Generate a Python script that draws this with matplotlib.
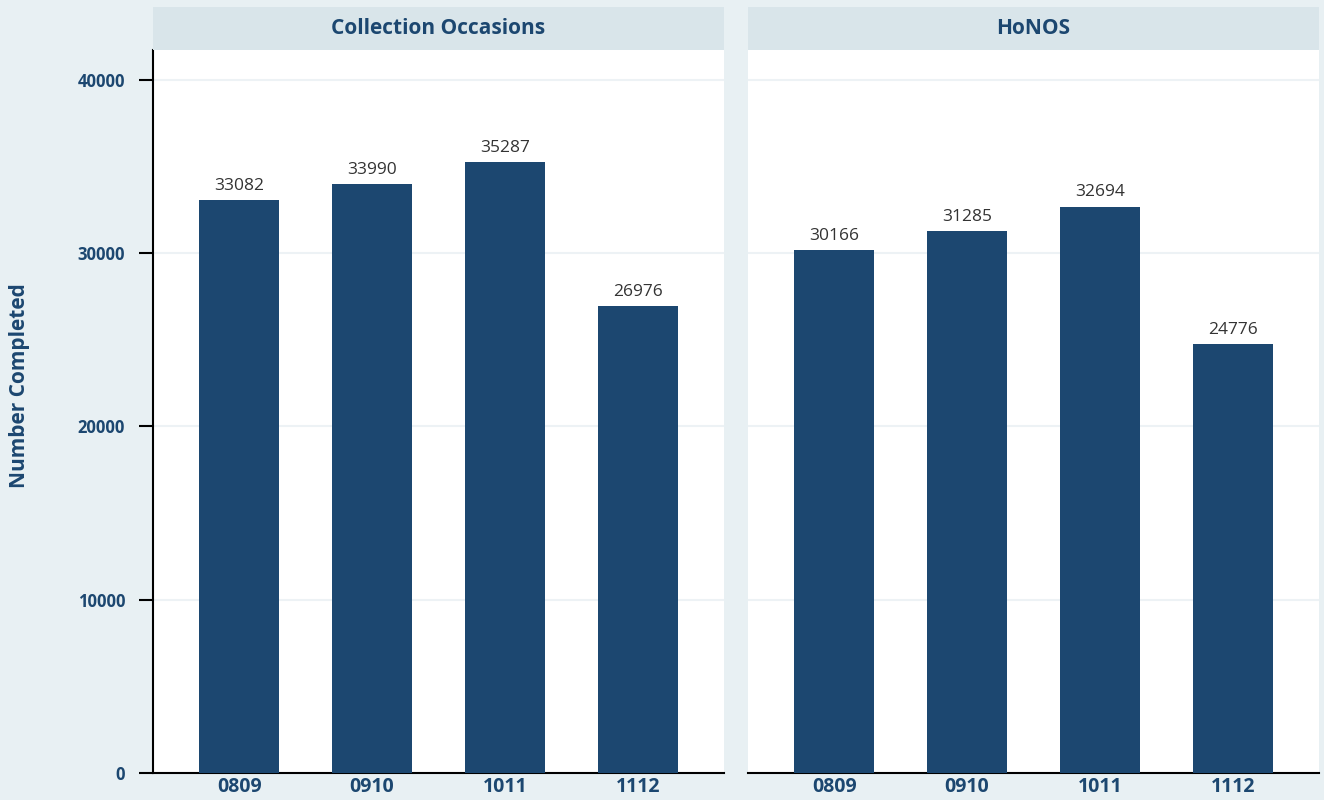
import matplotlib
matplotlib.use("Agg")
import matplotlib.pyplot as plt

categories = ["0809", "0910", "1011", "1112"]
panel_titles = ["Collection Occasions", "HoNOS"]
collection_values = [33082, 33990, 35287, 26976]
honos_values = [30166, 31285, 32694, 24776]
yticks = [0, 10000, 20000, 30000, 40000]

BG = "#E8F0F3"
STRIP = "#D9E5EA"
BAR = "#1C4770"
TXT = "#1C4770"
GRID = "#EDF2F5"

plt.rcParams['font.family'] = ['Open Sans', 'DejaVu Sans']

W, H = 1324, 800
fig = plt.figure(figsize=(W / 100, H / 100), dpi=100, facecolor=BG)

panels = [(153, 724), (748, 1319)]
top_px, bot_px, strip_top = 50, 773, 7
series = [collection_values, honos_values]

for i, ((x0, x1), vals, title) in enumerate(zip(panels, series, panel_titles)):
    ax = fig.add_axes([x0 / W, 1 - bot_px / H, (x1 - x0) / W, (bot_px - top_px) / H])
    ax.set_facecolor("white")
    xs = range(len(categories))
    ax.bar(xs, vals, width=0.6, color=BAR, zorder=3)
    for x, v in zip(xs, vals):
        ax.text(x, v + 350, str(v), ha="center", va="bottom", fontsize=12.5, color="#333333")
    ax.set_xlim(-0.65, 3.65)
    ax.set_ylim(0, 41730)
    ax.set_yticks(yticks)
    ax.grid(axis="y", color=GRID, linewidth=1.5, zorder=0)
    ax.set_xticks(list(xs))
    ax.set_xticklabels(categories, fontsize=14, fontweight="bold", color=TXT)
    ax.tick_params(axis="x", length=0, pad=3)
    for s in ["top", "right"]:
        ax.spines[s].set_visible(False)
    ax.spines["bottom"].set_color("black")
    ax.spines["bottom"].set_linewidth(1.5)
    if i == 0:
        ax.spines["left"].set_color("black")
        ax.spines["left"].set_linewidth(1.5)
        ax.set_yticklabels([str(t) for t in yticks], fontsize=12, fontweight="bold", color=TXT)
        ax.tick_params(axis="y", length=10, width=1.5, color="black", pad=10)
        ax.set_ylabel("Number Completed", fontsize=15, fontweight="bold", color=TXT, labelpad=0)
        ax.yaxis.set_label_coords((30 - x0) / (x1 - x0), (bot_px - 386) / (bot_px - top_px))
    else:
        ax.spines["left"].set_visible(False)
        ax.tick_params(axis="y", length=0, labelleft=False)
    # strip
    sax = fig.add_axes([x0 / W, 1 - top_px / H, (x1 - x0) / W, (top_px - strip_top) / H])
    sax.set_facecolor(STRIP)
    sax.set_xticks([]); sax.set_yticks([])
    for s in sax.spines.values():
        s.set_visible(False)
    sax.text(0.5, 0.5, title, ha="center", va="center", fontsize=15, fontweight="bold",
             color=TXT, transform=sax.transAxes)

fig.savefig("out.png", dpi=100, facecolor=BG)
